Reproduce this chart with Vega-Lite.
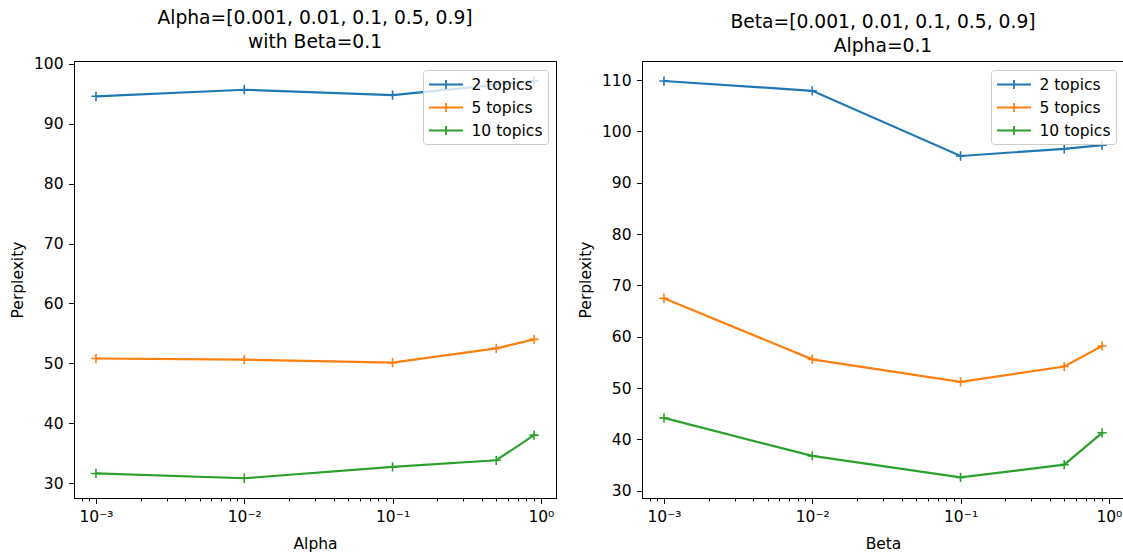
{
  "$schema": "https://vega.github.io/schema/vega-lite/v6.json",
  "background": "white",
  "padding": {"left": 9, "top": 8, "right": 0, "bottom": 0},
  "spacing": 20,
  "datasets": {
    "perp": [
      {"panel": "alpha", "x": 0.001, "topics": "2 topics", "perplexity": 94.6},
      {"panel": "alpha", "x": 0.01, "topics": "2 topics", "perplexity": 95.7},
      {"panel": "alpha", "x": 0.1, "topics": "2 topics", "perplexity": 94.8},
      {"panel": "alpha", "x": 0.5, "topics": "2 topics", "perplexity": 96.5},
      {"panel": "alpha", "x": 0.9, "topics": "2 topics", "perplexity": 97.2},
      {"panel": "alpha", "x": 0.001, "topics": "5 topics", "perplexity": 50.8},
      {"panel": "alpha", "x": 0.01, "topics": "5 topics", "perplexity": 50.6},
      {"panel": "alpha", "x": 0.1, "topics": "5 topics", "perplexity": 50.1},
      {"panel": "alpha", "x": 0.5, "topics": "5 topics", "perplexity": 52.5},
      {"panel": "alpha", "x": 0.9, "topics": "5 topics", "perplexity": 54.0},
      {"panel": "alpha", "x": 0.001, "topics": "10 topics", "perplexity": 31.6},
      {"panel": "alpha", "x": 0.01, "topics": "10 topics", "perplexity": 30.8},
      {"panel": "alpha", "x": 0.1, "topics": "10 topics", "perplexity": 32.7},
      {"panel": "alpha", "x": 0.5, "topics": "10 topics", "perplexity": 33.8},
      {"panel": "alpha", "x": 0.9, "topics": "10 topics", "perplexity": 38.0},
      {"panel": "beta", "x": 0.001, "topics": "2 topics", "perplexity": 109.8},
      {"panel": "beta", "x": 0.01, "topics": "2 topics", "perplexity": 107.9},
      {"panel": "beta", "x": 0.1, "topics": "2 topics", "perplexity": 95.2},
      {"panel": "beta", "x": 0.5, "topics": "2 topics", "perplexity": 96.6},
      {"panel": "beta", "x": 0.9, "topics": "2 topics", "perplexity": 97.3},
      {"panel": "beta", "x": 0.001, "topics": "5 topics", "perplexity": 67.5},
      {"panel": "beta", "x": 0.01, "topics": "5 topics", "perplexity": 55.6},
      {"panel": "beta", "x": 0.1, "topics": "5 topics", "perplexity": 51.2},
      {"panel": "beta", "x": 0.5, "topics": "5 topics", "perplexity": 54.2},
      {"panel": "beta", "x": 0.9, "topics": "5 topics", "perplexity": 58.2},
      {"panel": "beta", "x": 0.001, "topics": "10 topics", "perplexity": 44.2},
      {"panel": "beta", "x": 0.01, "topics": "10 topics", "perplexity": 36.8},
      {"panel": "beta", "x": 0.1, "topics": "10 topics", "perplexity": 32.6},
      {"panel": "beta", "x": 0.5, "topics": "10 topics", "perplexity": 35.1},
      {"panel": "beta", "x": 0.9, "topics": "10 topics", "perplexity": 41.3}
    ]
  },
  "hconcat": [
    {
      "width": 482,
      "height": 437,
      "title": {"text": ["Alpha=[0.001, 0.01, 0.1, 0.5, 0.9]", "with Beta=0.1"]},
      "data": {"name": "perp"},
      "transform": [{"filter": "datum.panel === 'alpha'"}],
      "resolve": {"axis": {"x": "independent"}},
      "layer": [
        {
          "mark": {"type": "line", "strokeWidth": 2.2,
            "point": {"shape": "M-1,0H1M0,-1V1", "filled": false, "size": 86, "strokeWidth": 1.6}},
          "encoding": {
            "x": {"field": "x", "type": "quantitative",
              "scale": {"type": "log", "domain": [0.000711, 1.265], "nice": false},
              "axis": {"orient": "bottom", "values": [0.001, 0.01, 0.1, 1], "title": "Alpha", "labelExpr": "datum.value < 0.005 ? '10⁻³' : datum.value < 0.05 ? '10⁻²' : datum.value < 0.5 ? '10⁻¹' : '10⁰'"}},
            "y": {"field": "perplexity", "type": "quantitative",
              "scale": {"domain": [27.5, 100.5], "nice": false, "zero": false},
              "axis": {"values": [30, 40, 50, 60, 70, 80, 90, 100], "title": "Perplexity"}},
            "color": {"field": "topics", "type": "nominal",
              "scale": {"domain": ["2 topics", "5 topics", "10 topics"], "range": ["#1f77b4", "#ff7f0e", "#2ca02c"]},
              "legend": {"title": null, "orient": "top-right"}},
            "order": {"field": "x", "type": "quantitative"}
          }
        },
        {
          "mark": {"type": "point", "opacity": 0},
          "encoding": {
            "x": {"field": "x", "type": "quantitative",
              "axis": {"orient": "bottom", "values": [0.0008, 0.0009, 0.002, 0.003, 0.004, 0.005, 0.006, 0.007, 0.008, 0.009, 0.02, 0.03, 0.04, 0.05, 0.06, 0.07, 0.08, 0.09, 0.2, 0.3, 0.4, 0.5, 0.6, 0.7, 0.8, 0.9], "labels": false, "title": null, "tickSize": 3, "domain": false}}
          }
        }
      ]
    },
    {
      "width": 482,
      "height": 437,
      "title": {"text": ["Beta=[0.001, 0.01, 0.1, 0.5, 0.9]", "Alpha=0.1"]},
      "data": {"name": "perp"},
      "transform": [{"filter": "datum.panel === 'beta'"}],
      "resolve": {"axis": {"x": "independent"}},
      "layer": [
        {
          "mark": {"type": "line", "strokeWidth": 2.2,
            "point": {"shape": "M-1,0H1M0,-1V1", "filled": false, "size": 86, "strokeWidth": 1.6}},
          "encoding": {
            "x": {"field": "x", "type": "quantitative",
              "scale": {"type": "log", "domain": [0.000711, 1.265], "nice": false},
              "axis": {"orient": "bottom", "values": [0.001, 0.01, 0.1, 1], "title": "Beta", "labelExpr": "datum.value < 0.005 ? '10⁻³' : datum.value < 0.05 ? '10⁻²' : datum.value < 0.5 ? '10⁻¹' : '10⁰'"}},
            "y": {"field": "perplexity", "type": "quantitative",
              "scale": {"domain": [28.6, 113.7], "nice": false, "zero": false},
              "axis": {"values": [30, 40, 50, 60, 70, 80, 90, 100, 110], "title": "Perplexity"}},
            "color": {"field": "topics", "type": "nominal",
              "scale": {"domain": ["2 topics", "5 topics", "10 topics"], "range": ["#1f77b4", "#ff7f0e", "#2ca02c"]},
              "legend": {"title": null, "orient": "top-right"}},
            "order": {"field": "x", "type": "quantitative"}
          }
        },
        {
          "mark": {"type": "point", "opacity": 0},
          "encoding": {
            "x": {"field": "x", "type": "quantitative",
              "axis": {"orient": "bottom", "values": [0.0008, 0.0009, 0.002, 0.003, 0.004, 0.005, 0.006, 0.007, 0.008, 0.009, 0.02, 0.03, 0.04, 0.05, 0.06, 0.07, 0.08, 0.09, 0.2, 0.3, 0.4, 0.5, 0.6, 0.7, 0.8, 0.9], "labels": false, "title": null, "tickSize": 3, "domain": false}}
          }
        }
      ]
    }
  ],
  "resolve": {"scale": {"color": "independent"}, "legend": {"color": "independent"}},
  "config": {
    "font": "DejaVu Sans",
    "view": {"stroke": "black", "strokeWidth": 1},
    "title": {"fontSize": 18.7, "fontWeight": "normal", "color": "black", "anchor": "middle", "offset": 5, "lineHeight": 24},
    "axis": {"grid": false, "domainColor": "black", "domainWidth": 1, "tickColor": "black", "tickSize": 5.4, "labelColor": "black", "labelFontSize": 15.5, "labelPadding": 5.5, "titleFontSize": 15.5, "titleFontWeight": "normal", "titleColor": "black", "titlePadding": 5, "labelFlush": false, "labelOverlap": false},
    "axisY": {"titlePadding": 8.5},
    "axisX": {"labelPadding": 6.5, "titlePadding": 11},
    "legend": {"labelFontSize": 15.5, "labelColor": "black", "fillColor": "rgba(255,255,255,0.8)", "strokeColor": "#cccccc", "cornerRadius": 3, "padding": 5, "offset": 8.5, "rowPadding": 5, "symbolType": "M-2,0H2M0,-0.54V0.54", "symbolSize": 289, "symbolOffset": 8.5, "symbolStrokeWidth": 1.8, "symbolFillColor": "transparent", "labelOffset": 16}
  }
}
